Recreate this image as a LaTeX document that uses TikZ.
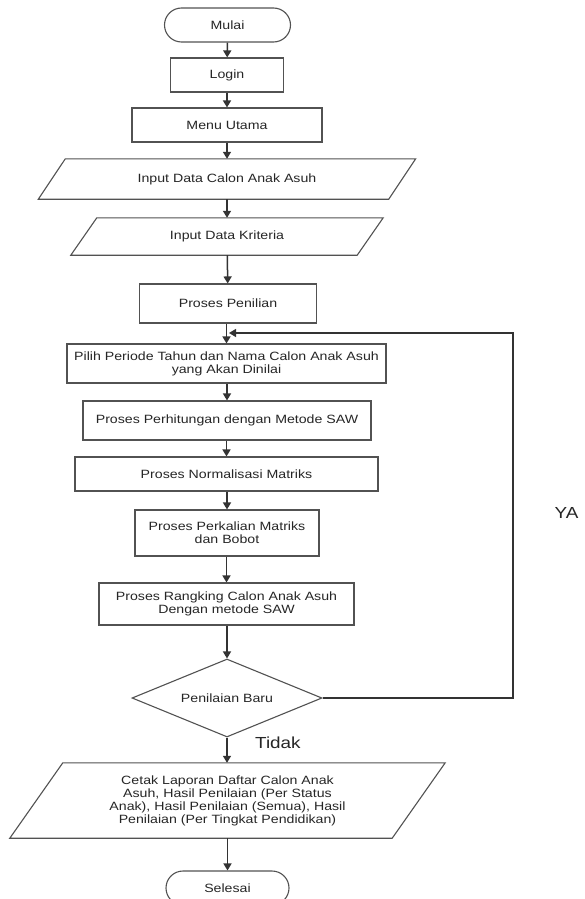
\documentclass[tikz,border=0pt]{standalone}
\usepackage{fontspec}
\setmainfont{Liberation Sans}[FakeStretch=1.18]
\usetikzlibrary{shapes.geometric,shapes.misc,arrows.meta}
\newcommand\paraframe[2]{\draw[boxline] ([xshift=#2/2]#1.north west) -- ([xshift=#2/2]#1.north east) -- ([xshift=-#2/2]#1.south east) -- ([xshift=-#2/2]#1.south west) -- cycle;}
\tikzset{
  boxline/.style={draw=black!68, line width=1.1pt},
  txt/.style={font=\fontsize{12}{13}\selectfont, align=center, inner sep=1pt, text=black!85},
  proc/.style={rectangle, boxline, txt},
  term/.style={rounded rectangle, boxline, txt},
  iobox/.style={rectangle, draw=none, txt},
  decbox/.style={diamond, boxline, txt, aspect=2.4},
  flow/.style={draw=black!80, line width=1.5pt, -{Triangle[length=7pt,width=8pt]}},
  lbl/.style={font=\fontsize{16}{18}\selectfont, inner sep=0pt, text=black!85}
}
\begin{document}
\begin{tikzpicture}[x=1pt,y=-1pt]
\useasboundingbox (0,0) rectangle (585,899);
\fill[white] (0,0) rectangle (585,899);

\node[term, minimum width=128pt, minimum height=34pt] (mulai) at (227.5,25) {Mulai};
\node[proc, minimum width=113pt, minimum height=34pt] (login) at (227,75) {Login};
\node[proc, minimum width=190pt, minimum height=34pt] (menu) at (227,125) {Menu Utama};
\node[iobox, minimum width=350pt, minimum height=40pt] (in1) at (227,179) {Input Data Calon Anak Asuh};
\paraframe{in1}{27}
\node[iobox, minimum width=286pt, minimum height=37pt] (in2) at (227,236.5) {Input Data Kriteria};
\paraframe{in2}{26}
\node[proc, minimum width=177pt, minimum height=39pt] (nilai) at (228,303.5) {Proses Penilian};
\node[proc, minimum width=319pt, minimum height=39pt] (pilih) at (226.5,363.5) {Pilih Periode Tahun dan Nama Calon Anak Asuh\\yang Akan Dinilai};
\node[proc, minimum width=288pt, minimum height=39pt] (hitung) at (227,420.5) {Proses Perhitungan dengan Metode SAW};
\node[proc, minimum width=303pt, minimum height=34pt] (norm) at (226.5,474) {Proses Normalisasi Matriks};
\node[proc, minimum width=184pt, minimum height=46pt] (kali) at (227,533) {Proses Perkalian Matriks\\dan Bobot};
\node[proc, minimum width=255pt, minimum height=42pt] (rank) at (226.5,604) {Proses Rangking Calon Anak Asuh\\Dengan metode SAW};
\node[decbox, minimum width=190pt, minimum height=78pt] (baru) at (227,698) {Penilaian Baru};
\node[iobox, minimum width=382pt, minimum height=75pt] (cetak) at (227.5,800.5) {Cetak Laporan Daftar Calon Anak\\Asuh, Hasil Penilaian (Per Status\\Anak), Hasil Penilaian (Semua), Hasil\\Penilaian (Per Tingkat Pendidikan)};
\paraframe{cetak}{53}
\node[term, minimum width=125pt, minimum height=34pt] (selesai) at (227.5,888) {Selesai};

\node[lbl, anchor=west] (tidak) at (255,743) {Tidak};
\node[lbl] (ya) at (566.5,513) {YA};

\coordinate (lr) at (513,698);
\coordinate (ur) at (513,333);
\coordinate (jn) at (229,333);

\draw[flow] (mulai) -- (login);
\draw[flow] (login) -- (menu);
\draw[flow] (menu) -- (in1);
\draw[flow] (in1) -- (in2);
\draw[flow] (in2) -- (nilai);
\draw[flow] (nilai.south -| pilih.north) -- (pilih.north);
\draw[flow] (pilih.south -| hitung.north) -- (hitung.north);
\draw[flow] (hitung.south -| norm.north) -- (norm.north);
\draw[flow] (norm.south -| kali.north) -- (kali.north);
\draw[flow] (kali.south -| rank.north) -- (rank.north);
\draw[flow] (rank.south -| baru.north) -- (baru.north);
\draw[flow] (baru.south) -- (baru.south |- cetak.north);
\draw[flow] (cetak.south) -- (selesai.north);
\draw[flow, line width=1.3pt] (baru.east) -- (lr) -- (ur) -- (jn);
\end{tikzpicture}
\end{document}
